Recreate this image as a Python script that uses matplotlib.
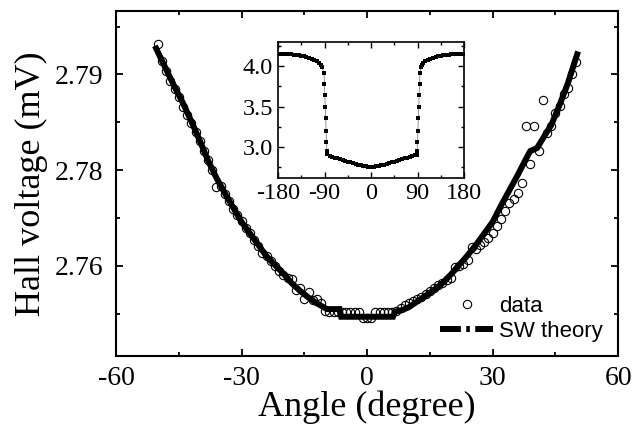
import matplotlib
matplotlib.use('Agg')
import matplotlib.pyplot as plt
from matplotlib.lines import Line2D

plt.rcParams['axes.unicode_minus'] = False
plt.rcParams['font.family'] = 'Liberation Serif'

# measured hall voltage, one point per degree
data_angle = list(range(-50, 51))
data_volt = [
    2.7932, 2.7914, 2.7904, 2.7893, 2.7885, 2.7876, 2.7866, 2.7858, 2.7849, 2.7840,
    2.7831, 2.7820, 2.7811, 2.7800, 2.7782, 2.7783, 2.7775, 2.7768, 2.7760, 2.7753,
    2.7747, 2.7740, 2.7734, 2.7727, 2.7721, 2.7714, 2.7710, 2.7705, 2.7700, 2.7695,
    2.7691, 2.7687, 2.7686, 2.7675, 2.7677, 2.7666, 2.7673, 2.7664, 2.7666, 2.7661,
    2.7653, 2.7652, 2.7652, 2.7652, 2.7652, 2.7652, 2.7652, 2.7652, 2.7652, 2.7646,
    2.7646, 2.7646, 2.7652, 2.7652, 2.7652, 2.7652, 2.7652, 2.7653, 2.7656, 2.7659,
    2.7661, 2.7663, 2.7666, 2.7668, 2.7671, 2.7674, 2.7677, 2.7680, 2.7682, 2.7685,
    2.7687, 2.7699, 2.7700, 2.7702, 2.7706, 2.7720, 2.7718, 2.7722, 2.7725, 2.7729,
    2.7734, 2.7742, 2.7749, 2.7757, 2.7766, 2.7770, 2.7776, 2.7787, 2.7846, 2.7806,
    2.7846, 2.7820, 2.7873, 2.7839, 2.7846, 2.7860, 2.7867, 2.7880, 2.7886, 2.7900,
    2.7913,
]

# Stoner-Wohlfarth fit
sw_angle = [-50.4, -48, -46, -44, -42, -40, -38, -36, -34, -32, -30, -28, -26, -24,
            -22, -20, -18, -16, -14, -12, -10, -9.6, -6.6, -6.2, 6.2, 6.6, 8.4, 10,
            12, 14, 16, 18, 20, 22, 24, 26, 28, 30, 32, 34, 36, 38, 39, 40.6, 42,
            44, 46, 48, 50.2]
sw_volt = [2.7927, 2.7905, 2.7887, 2.7870, 2.7851, 2.7831, 2.7810, 2.7792, 2.7776,
           2.7761, 2.7746, 2.7734, 2.7722, 2.7710, 2.7701, 2.7692, 2.7682, 2.7674,
           2.7667, 2.7661, 2.7656, 2.7655, 2.7655, 2.7647, 2.7647, 2.7652, 2.7654,
           2.7657, 2.7663, 2.7669, 2.7675, 2.7682, 2.7691, 2.7701, 2.7711, 2.7722,
           2.7734, 2.7746, 2.7763, 2.7779, 2.7795, 2.7812, 2.7820, 2.7823, 2.7833,
           2.7847, 2.7868, 2.7891, 2.7921]

# full rotation shown in the inset
inset_angle = [-180, -175, -170, -165, -160, -155, -150, -145, -140, -135, -130, -125,
               -120, -115, -110, -105, -100, -97, -95,
               -91, -90.2, -89.4, -88.6, -87.8, -87, -86.2, -85.4,
               -84.5, -80, -75, -70, -65, -60, -55, -50, -45, -40, -35, -30, -25,
               -20, -15, -10, -5, 0, 5, 10, 15, 20, 25, 30, 35, 40, 45, 50, 55, 60,
               65, 70, 75, 80, 85, 88,
               89, 89.8, 90.6, 91.4, 92.2, 93, 93.8, 94.6,
               96, 98, 100, 105, 110, 115, 120, 125, 130, 135, 140, 145, 150, 155, 160,
               165, 170, 175, 180]
inset_volt = [4.155, 4.155, 4.154, 4.152, 4.150, 4.147, 4.143, 4.139, 4.134, 4.128,
              4.120, 4.112, 4.102, 4.090, 4.076, 4.058, 4.035, 4.015, 3.990,
              3.91, 3.78, 3.64, 3.50, 3.36, 3.20, 3.06, 2.95,
              2.915, 2.890, 2.880, 2.870, 2.860, 2.850, 2.840, 2.830, 2.820, 2.810,
              2.800, 2.790, 2.780, 2.773, 2.767, 2.762, 2.758, 2.757, 2.758, 2.762,
              2.767, 2.773, 2.780, 2.790, 2.800, 2.810, 2.820, 2.830, 2.840, 2.850,
              2.860, 2.870, 2.880, 2.890, 2.900, 2.905,
              2.95, 3.06, 3.20, 3.36, 3.50, 3.64, 3.78, 3.91,
              3.990, 4.015, 4.035, 4.058, 4.076, 4.090, 4.102, 4.112, 4.120, 4.128,
              4.134, 4.139, 4.143, 4.147, 4.150, 4.152, 4.154, 4.155, 4.155]

fig = plt.figure(figsize=(6.34, 4.30), dpi=100)
ax = fig.add_axes([0.183, 0.172, 0.792, 0.802])

ax.plot(data_angle, data_volt, 'o', mfc='none', mec='black', ms=6, mew=0.8, zorder=2)
ax.plot(sw_angle, sw_volt, '-', color='black', lw=4.3, solid_joinstyle='miter', zorder=3)

ax.set_xlim(-60, 60)
ax.set_ylim(2.7606, 2.7966)
ax.set_xticks([-60, -30, 0, 30, 60])
ax.set_xticks([-45, -15, 15, 45], minor=True)
ax.set_yticks([2.77, 2.78, 2.79])
ax.set_yticklabels(['2.76', '2.78', '2.79'])
ax.set_yticks([2.765, 2.775, 2.785, 2.795], minor=True)
ax.tick_params(which='both', direction='in', top=True, right=True, width=1.3, labelsize=20)
ax.tick_params(which='major', length=5)
ax.tick_params(which='minor', length=3)
ax.tick_params(axis='x', pad=7)
ax.tick_params(axis='y', pad=9)
for s in ax.spines.values():
    s.set_linewidth(1.5)
ax.set_xlabel('Angle (degree)', fontsize=26, labelpad=0)
ax.set_ylabel('Hall voltage (mV)', fontsize=26, labelpad=5)

# legend with a dash-dot sample for the theory line
h_data = Line2D([], [], ls='none', marker='o', mfc='none', mec='black', ms=6, mew=0.8)
h_sw = Line2D([], [], color='black', lw=4.3, ls=(0, (3.5, 0.9, 0.6, 0.9)),
              dash_capstyle='butt')
ax.legend([h_data, h_sw], ['data', 'SW theory'], loc='lower right',
          bbox_to_anchor=(0.969, 0.042), frameon=False, handlelength=2.4,
          handletextpad=0.25, labelspacing=0.15, borderpad=0, borderaxespad=0,
          prop={'family': 'Liberation Sans', 'size': 16})

# inset
axi = fig.add_axes([0.4385, 0.586, 0.2935, 0.316])
axi.plot(inset_angle, inset_volt, '-', color='0.5', lw=0.6, zorder=1)
axi.plot(inset_angle, inset_volt, 's', color='black', ms=2.6, mew=0, zorder=2)
axi.set_xlim(-180, 180)
axi.set_ylim(2.617, 4.296)
axi.set_xticks([-180, -90, 0, 90, 180])
axi.set_xticks([-135, -45, 45, 135], minor=True)
axi.set_yticks([3.0, 3.5, 4.0])
axi.set_yticklabels(['3.0', '3.5', '4.0'])
axi.set_yticks([2.75, 3.25, 3.75, 4.25], minor=True)
axi.tick_params(which='both', direction='in', top=True, right=True, width=1.0, labelsize=17.5)
axi.tick_params(which='major', length=4)
axi.tick_params(which='minor', length=2.5)
for s in axi.spines.values():
    s.set_linewidth(1.2)

fig.savefig('out.png', dpi=100)
